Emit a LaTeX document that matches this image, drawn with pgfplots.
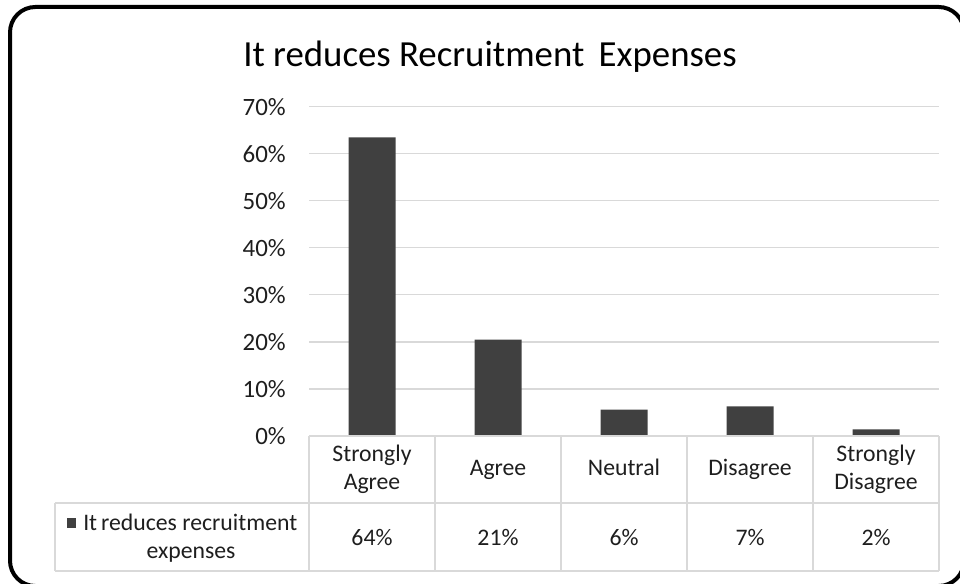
\documentclass[border=0pt]{standalone}
\usepackage{pgfplots}
\pgfplotsset{compat=1.18}
\usepackage{fontspec}
\setmainfont{Carlito}
\definecolor{barc}{HTML}{404040}
\definecolor{gridc}{HTML}{D9D9D9}
\definecolor{txt}{HTML}{1E1E1E}
\begin{document}
\begin{tikzpicture}[x=0.75pt,y=0.75pt]
\useasboundingbox (0,0) rectangle (960,583);
\draw[line width=3pt, rounded corners=19pt] (10,576) rectangle (964,-3);
\node[font=\fontsize{27.6}{30}\selectfont, text=black] at (490,526) {It reduces Recruitment\, Expenses};
\begin{axis}[
  at={(231.75pt,110.25pt)}, anchor=south west,
  scale only axis, width=472.5pt, height=247pt,
  xmin=-0.5, xmax=4.5, ymin=0, ymax=70,
  axis line style={draw=none},
  major tick length=0pt,
  ytick={0,10,20,30,40,50,60,70},
  yticklabels={0\%,10\%,20\%,30\%,40\%,50\%,60\%,70\%},
  yticklabel style={font=\fontsize{18.7}{20}\selectfont, text=txt, anchor=east, inner sep=0pt, xshift=-17.25pt},
  ymajorgrids, grid style={gridc, line width=0.9pt},
  xtick={0,1,2,3,4},
  xticklabels={{\strut Strongly\\\strut Agree}, {\strut Agree}, {\strut Neutral}, {\strut Disagree}, {\strut Strongly\\\strut Disagree}},
  xticklabel style={font=\fontsize{17.8}{20.8}\selectfont, align=center, anchor=center, inner sep=0pt, yshift=-25.5pt, text=txt},
  clip=false,
]
\addplot[ybar, bar width=35.25pt, fill=barc, draw=none] coordinates {(0,63.5) (1,20.5) (2,5.6) (3,6.3) (4,1.4)};
\end{axis}
% data table lines
\begin{scope}[gridc, line width=0.9pt]
\draw (309,147) -- (939,147);
\draw (55,80) -- (939,80);
\draw (55,12) -- (939,12);
\draw (55,80) -- (55,12);
\foreach \xx in {309,435,561,687,813,939} {\draw (\xx,147) -- (\xx,12);}
\end{scope}
\begin{scope}[font=\fontsize{17.8}{20.8}\selectfont, text=txt, anchor=base, inner sep=0pt]
\node at (372,38) {64\%};
\node at (498,38) {21\%};
\node at (624,38) {6\%};
\node at (750,38) {7\%};
\node at (876,38) {2\%};
\end{scope}
\fill[barc] (67,55) rectangle (76,65);
\node[font=\fontsize{17.8}{20}\selectfont, text=txt, anchor=base west, inner sep=0pt] at (83,53) {It\,reduces recruitment};
\node[font=\fontsize{17.8}{20}\selectfont, text=txt, anchor=base, inner sep=0pt] at (191,25) {expenses};
\end{tikzpicture}
\end{document}
